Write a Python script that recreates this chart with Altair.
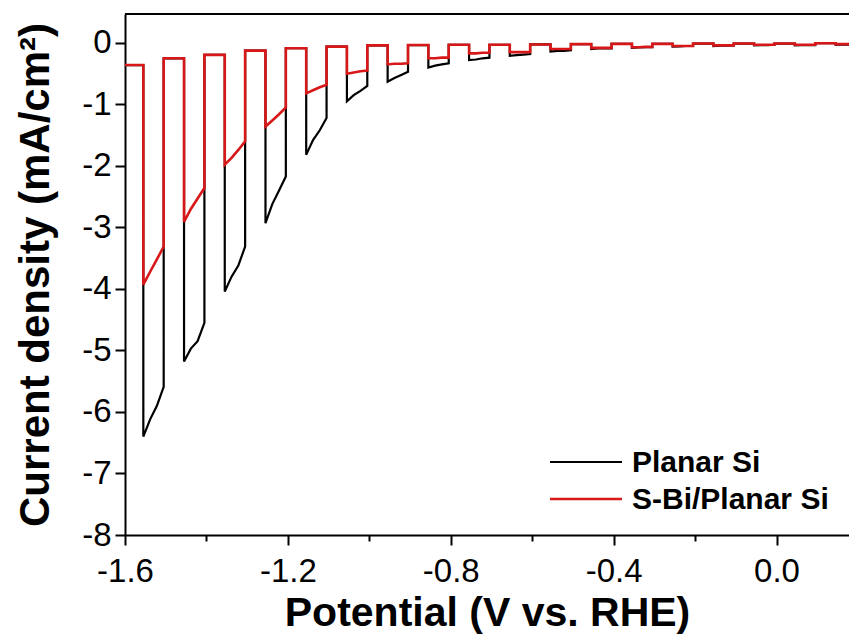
import altair as alt
import pandas as pd

# ---- data (potential in V vs. RHE, current density in mA/cm^2) ----
series_names = ["Planar Si", "S-Bi/Planar Si"]

# potentials at which the light is switched on (each illuminated window is 0.05 V wide)
light_on = [-1.555, -1.455, -1.355, -1.255, -1.155, -1.055, -0.955, -0.855, -0.755,
            -0.655, -0.555, -0.455, -0.355, -0.255, -0.155, -0.055, 0.045, 0.145]
light_width = 0.05
light_offsets = [0.0, 0.0167, 0.0333, 0.05]

# dark-current plateaus (before each light window, plus the final one)
dark_black = [-0.36, -0.25, -0.195, -0.125, -0.087, -0.06, -0.04, -0.035, -0.03, -0.03,
              -0.025, -0.02, -0.015, -0.015, -0.01, -0.01, -0.01, -0.005, 0.0]
dark_red = [-0.36, -0.25, -0.195, -0.125, -0.087, -0.06, -0.04, -0.035, -0.03, -0.03,
            -0.025, -0.02, -0.015, -0.015, -0.01, -0.01, -0.01, -0.005, 0.0]

# photocurrent inside each light window (start, 1/3, 2/3, end)
light_black = [
    [-6.40, -6.12, -5.90, -5.59],
    [-5.18, -4.97, -4.85, -4.55],
    [-4.04, -3.80, -3.62, -3.31],
    [-2.93, -2.62, -2.40, -2.17],
    [-1.82, -1.58, -1.42, -1.22],
    [-0.95, -0.85, -0.78, -0.70],
    [-0.63, -0.57, -0.52, -0.47],
    [-0.40, -0.37, -0.35, -0.33],
    [-0.28, -0.27, -0.25, -0.24],
    [-0.21, -0.20, -0.19, -0.18],
    [-0.14, -0.13, -0.13, -0.12],
    [-0.10, -0.09, -0.09, -0.09],
    [-0.08, -0.075, -0.07, -0.07],
    [-0.06, -0.055, -0.05, -0.05],
    [-0.05, -0.045, -0.045, -0.04],
    [-0.04, -0.035, -0.035, -0.03],
    [-0.04, -0.035, -0.035, -0.035],
    [-0.03, -0.03, -0.03, -0.03],
]
light_red = [
    [-3.93, -3.72, -3.52, -3.31],
    [-2.91, -2.70, -2.53, -2.36],
    [-1.98, -1.87, -1.74, -1.60],
    [-1.36, -1.26, -1.16, -1.05],
    [-0.82, -0.77, -0.72, -0.68],
    [-0.50, -0.48, -0.46, -0.45],
    [-0.35, -0.34, -0.34, -0.33],
    [-0.25, -0.25, -0.24, -0.24],
    [-0.17, -0.17, -0.16, -0.16],
    [-0.15, -0.15, -0.15, -0.15],
    [-0.10, -0.10, -0.10, -0.10],
    [-0.08, -0.08, -0.08, -0.08],
    [-0.07, -0.07, -0.065, -0.065],
    [-0.05, -0.05, -0.05, -0.05],
    [-0.04, -0.04, -0.04, -0.04],
    [-0.03, -0.03, -0.03, -0.03],
    [-0.03, -0.03, -0.03, -0.03],
    [-0.02, -0.02, -0.02, -0.02],
]

x_start, x_end = -1.6, 0.2


def build(name, dark, light):
    rows = [(x_start, dark[0])]
    for k, on in enumerate(light_on):
        rows.append((on, dark[k]))
        for o, v in zip(light_offsets, light[k]):
            rows.append((on + o, v))
        rows.append((on + light_width, dark[k + 1]))
    rows.append((x_end, dark[-1]))
    return pd.DataFrame({"V": [r[0] for r in rows], "J": [r[1] for r in rows],
                         "idx": list(range(len(rows))), "Sample": name})


df_black = build(series_names[0], dark_black, light_black)
df_red = build(series_names[1], dark_red, light_red)

X_DOM = [-1.6, 0.178]
Y_DOM = [-8, 0.47]
FONT = "Liberation Sans"
RED = "#d81818"
COLORS = ["black", RED]
WIDTHS = [2.2, 2.6]

x_ticks = [-1.6, -1.4, -1.2, -1.0, -0.8, -0.6, -0.4, -0.2, 0.0]
y_ticks = [-8 + 0.5 * i for i in range(17)]

x_axis = alt.Axis(
    values=x_ticks,
    title="Potential (V vs. RHE)",
    labelExpr="abs(round(datum.value*10)) % 4 === 0 ? (datum.value < -0.001 ? '-' : '') + format(abs(datum.value), '.1f') : ''",
    tickSize=alt.condition("abs(round(datum.value*10)) % 4 === 0", alt.value(10), alt.value(6)),
    labelFont=FONT, labelFontSize=33, labelColor="black", labelPadding=10,
    titleFont=FONT, titleFontSize=41, titleFontWeight="bold", titleColor="black", titlePadding=5,
    domainColor="black", domainWidth=2, tickColor="black", tickWidth=2, grid=False,
    labelFlush=False, labelOverlap=False,
)
y_axis = alt.Axis(
    values=y_ticks,
    title="Current density (mA/cm²)",
    labelExpr="abs(round(datum.value*2)) % 2 === 0 ? (datum.value < -0.001 ? '-' : '') + format(abs(datum.value), 'd') : ''",
    tickSize=alt.condition("abs(round(datum.value*2)) % 2 === 0", alt.value(10), alt.value(6)),
    labelFont=FONT, labelFontSize=33, labelColor="black", labelPadding=4,
    titleFont=FONT, titleFontSize=42, titleFontWeight="bold", titleColor="black", titlePadding=24,
    domainColor="black", domainWidth=2, tickColor="black", tickWidth=2, grid=False,
    labelFlush=False, labelOverlap=False,
)

color_scale = alt.Scale(domain=series_names, range=COLORS)

x_enc = alt.X("V:Q", scale=alt.Scale(domain=X_DOM, nice=False, zero=False), axis=x_axis)
y_enc = alt.Y("J:Q", scale=alt.Scale(domain=Y_DOM, nice=False, zero=False), axis=y_axis)

layers = []
for df, w in zip([df_black, df_red], WIDTHS):
    layers.append(
        alt.Chart(df).mark_line(strokeWidth=w, clip=True).encode(
            x=x_enc, y=y_enc,
            color=alt.Color("Sample:N", scale=color_scale, legend=None),
            order=alt.Order("idx:Q"),
        )
    )

top_border = alt.Chart(pd.DataFrame({"t": [Y_DOM[1]]})).mark_rule(color="black", strokeWidth=2).encode(
    y=alt.Y("t:Q", scale=alt.Scale(domain=Y_DOM, nice=False, zero=False)),
)
layers.append(top_border)

# legend (drawn in pixel space inside the plot area, lower right)
for i, (name, c, w) in enumerate(zip(series_names, COLORS, WIDTHS)):
    ldf = pd.DataFrame({"Sample": [name]})
    row_y = 448 + 37 * i
    layers.append(
        alt.Chart(ldf).mark_rule(color=c, strokeWidth=w).encode(
            x=alt.value(425), x2=alt.value(497), y=alt.value(row_y)
        )
    )
    layers.append(
        alt.Chart(ldf).mark_text(align="left", baseline="middle", font=FONT, fontSize=30,
                                 fontWeight="bold", color="black").encode(
            x=alt.value(507), y=alt.value(row_y + 1), text="Sample:N"
        )
    )

chart = alt.layer(*layers).properties(
    width=724, height=521,
    autosize=alt.AutoSizeParams(type="none"),
    padding={"left": 125, "top": 14, "right": 0, "bottom": 101},
    background="white",
).configure_view(stroke=None)

chart.save("out.html", embed_options={"renderer": "svg", "actions": False})
